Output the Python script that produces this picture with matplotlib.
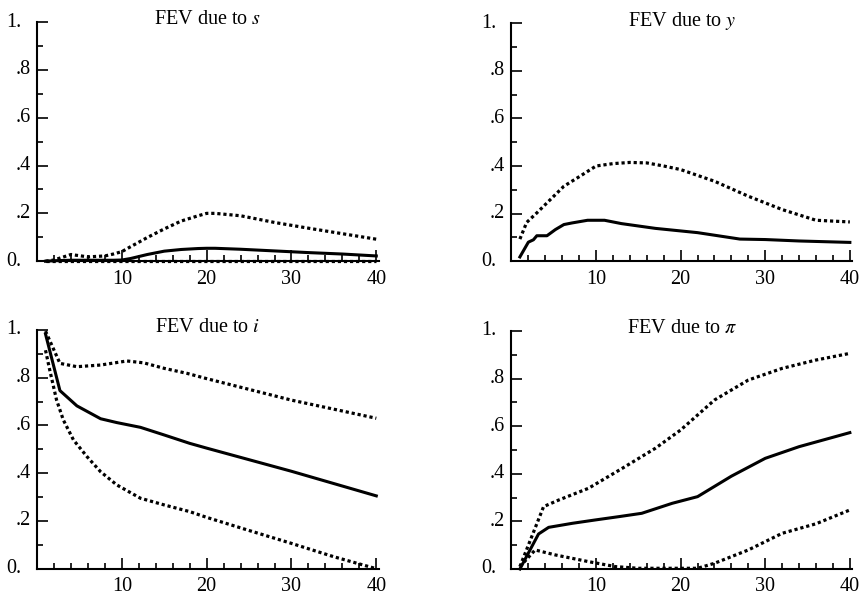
import numpy as np
import matplotlib
matplotlib.use("Agg")
import matplotlib.pyplot as plt
from matplotlib.ticker import MultipleLocator, NullFormatter

plt.rcParams['font.family'] = ['Liberation Serif', 'DejaVu Serif']
plt.rcParams['mathtext.fontset'] = 'stix'

# %% Data

# FEV due to s
s_mid_h = [1, 2, 4, 6, 8, 9, 10, 11, 13, 15, 17, 19, 20, 21, 24, 28, 32, 36, 40]
s_mid = [0.0, 0.002, 0.004, 0.004, 0.004, 0.004, 0.005, 0.011, 0.028, 0.042, 0.049,
         0.053, 0.054, 0.054, 0.05, 0.043, 0.036, 0.03, 0.022]
s_up_h = [1, 2, 4, 6, 8, 9, 10, 11, 13, 15, 17, 19, 20, 21, 24, 28, 32, 36, 40]
s_up = [0.0, 0.005, 0.028, 0.018, 0.022, 0.03, 0.04, 0.06, 0.099, 0.135, 0.168,
        0.19, 0.2, 0.2, 0.19, 0.162, 0.138, 0.115, 0.092]
s_lo_h = [1, 40]
s_lo = [0.0, 0.0]

# FEV due to y
y_mid_h = [1, 2, 2.6, 3, 4.2, 5.2, 6.2, 7.2, 9, 11, 13, 17, 22, 27, 30, 34, 40]
y_mid = [0.018, 0.08, 0.09, 0.107, 0.107, 0.133, 0.154, 0.161, 0.172, 0.172, 0.158,
         0.138, 0.12, 0.093, 0.091, 0.085, 0.079]
y_up_h = [1, 1.8, 3, 4.2, 6.2, 8.1, 10, 12, 14, 16, 18, 20, 24, 28, 32, 36, 40]
y_up = [0.093, 0.163, 0.203, 0.245, 0.315, 0.357, 0.4, 0.41, 0.415, 0.413, 0.4,
        0.385, 0.336, 0.273, 0.217, 0.172, 0.165]

# FEV due to i
i_mid_h = [1, 2.7, 4.7, 7.5, 9.4, 12.2, 15, 18, 20, 30, 40]
i_mid = [0.983, 0.746, 0.682, 0.628, 0.612, 0.592, 0.56, 0.525, 0.505, 0.408, 0.305]
i_up_h = [1, 2.7, 4.7, 7.5, 10.6, 12.6, 15, 17.7, 20, 30, 40]
i_up = [0.995, 0.86, 0.846, 0.853, 0.87, 0.862, 0.839, 0.818, 0.796, 0.706, 0.63]
i_lo_h = [1, 1.5, 2.3, 3.1, 4.3, 5.9, 7.5, 9.4, 12.2, 15, 18, 20, 25, 30, 35, 40]
i_lo = [0.915, 0.832, 0.707, 0.623, 0.539, 0.469, 0.406, 0.351, 0.295, 0.267, 0.239,
        0.215, 0.16, 0.106, 0.05, 0.0]

# FEV due to pi
p_mid_h = [1, 3.2, 4.4, 7.2, 9.9, 12.7, 15.4, 19, 22, 26, 30, 34, 40]
p_mid = [0.0, 0.147, 0.175, 0.192, 0.206, 0.22, 0.234, 0.276, 0.304, 0.39, 0.465,
         0.514, 0.573]
p_up_h = [1, 2.4, 3.8, 5.6, 9.1, 13.1, 17, 20, 24, 28, 32, 36, 40]
p_up = [0.01, 0.136, 0.262, 0.29, 0.339, 0.423, 0.507, 0.584, 0.71, 0.794, 0.843,
        0.878, 0.906]
p_lo_h = [1, 2.8, 5.2, 9.1, 12.3, 15, 22, 24, 28, 32, 36, 40]
p_lo = [0.01, 0.08, 0.059, 0.031, 0.01, 0.003, 0.003, 0.024, 0.08, 0.15, 0.19, 0.248]

titles = ['FEV due to $s$', 'FEV due to $y$', 'FEV due to $i$', r'FEV due to $\pi$']
ytick_vals = [0, 0.2, 0.4, 0.6, 0.8, 1.0]
ytick_labels = ['0.', '.2', '.4', '.6', '.8', '1.']
xtick_vals = [10, 20, 30, 40]

panels = [
    (titles[0], [(s_mid_h, s_mid)], [(s_up_h, s_up), (s_lo_h, s_lo)]),
    (titles[1], [(y_mid_h, y_mid)], [(y_up_h, y_up)]),
    (titles[2], [(i_mid_h, i_mid)], [(i_up_h, i_up), (i_lo_h, i_lo)]),
    (titles[3], [(p_mid_h, p_mid)], [(p_up_h, p_up), (p_lo_h, p_lo)]),
]

rects = [
    [0.043, 0.561, 0.397, 0.402],
    [0.594, 0.561, 0.396, 0.400],
    [0.043, 0.0442, 0.397, 0.4013],
    [0.594, 0.0437, 0.396, 0.400],
]

# %% Plot

fig = plt.figure(figsize=(8.61, 5.95), dpi=100)

for (title, solid, dotted), rect in zip(panels, rects):
    ax = fig.add_axes(rect)
    for h, v in dotted:
        ax.plot(h, v, color='black', lw=2.3, linestyle=(0, (1, 0.9)),
                dash_capstyle='butt', clip_on=False)
    for h, v in solid:
        ax.plot(h, v, color='black', lw=2.2, solid_joinstyle='round', clip_on=False)

    ax.set_xlim(0, 40.3)
    ax.set_ylim(0, 1)
    for side in ['top', 'right']:
        ax.spines[side].set_visible(False)
    for side in ['left', 'bottom']:
        ax.spines[side].set_linewidth(1.5)

    ax.set_xticks(xtick_vals)
    ax.xaxis.set_minor_locator(MultipleLocator(2))
    ax.set_yticks(ytick_vals)
    ax.yaxis.set_minor_locator(MultipleLocator(0.1))
    ax.yaxis.set_major_formatter(NullFormatter())
    ax.tick_params(which='both', direction='in', width=1.2)
    ax.tick_params(which='major', length=8)
    ax.tick_params(which='minor', length=4)
    ax.tick_params(axis='x', labelsize=14.5, pad=6)

    # decimal-aligned y labels
    for v, lab in zip(ytick_vals, ytick_labels):
        off = -11 if lab.endswith('.') else -4.5
        ax.annotate(lab, xy=(0, v), xycoords=('axes fraction', 'data'),
                    xytext=(off, 0), textcoords='offset points',
                    ha='right', va='center', fontsize=14.5)

    ax.set_title(title, fontsize=14.5, y=0.99, pad=0)

plt.savefig("out.png", dpi=100)
